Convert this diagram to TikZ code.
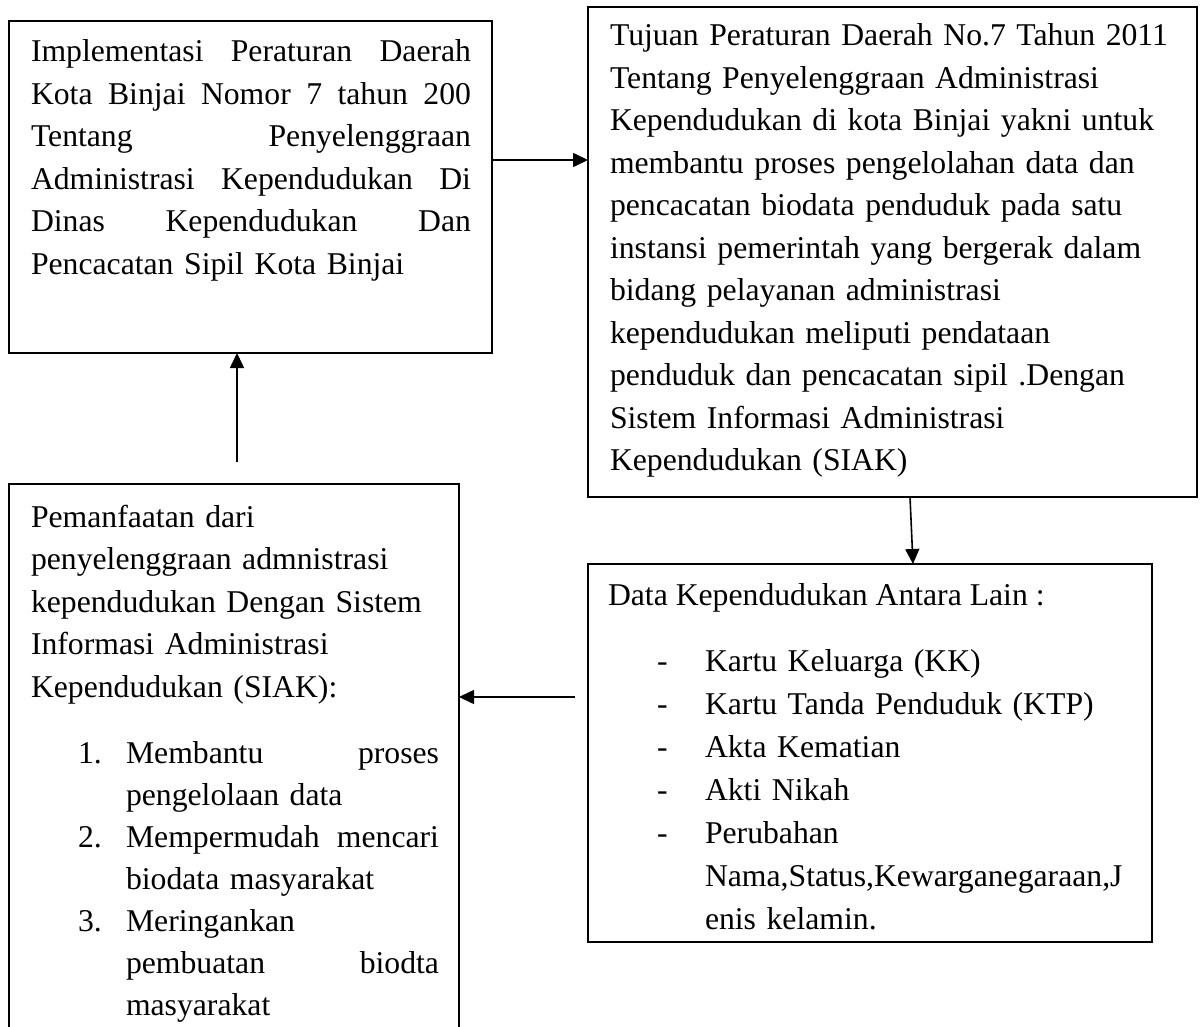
\documentclass[tikz,border=0pt]{standalone}
\usepackage{fontspec}
\setmainfont{Liberation Serif}
\usetikzlibrary{arrows.meta,calc}
\begin{document}
\begin{tikzpicture}[x=1pt,y=-1pt,
  box/.style={draw, line width=1.6pt, inner sep=0pt, outer sep=0pt, anchor=north west},
  arr/.style={line width=1.6pt, -{Triangle[length=15pt,width=14pt]}},
  txt/.style={inner sep=0pt, outer sep=0pt, anchor=north west, align=left,
    font=\fontsize{31.7pt}{42.5pt}\selectfont},
  lst/.style={txt, font=\fontsize{31.7pt}{42pt}\selectfont},
  lstb/.style={txt, font=\fontsize{31.7pt}{43pt}\selectfont},
  oneline/.style={inner sep=0pt, outer sep=0pt, anchor=base west,
    font=\fontsize{31.7pt}{42.5pt}\selectfont}]
\useasboundingbox (0,0) rectangle (1202,1027);
\clip (0,0) rectangle (1202,1027);
\fill[white] (0,0) rectangle (1202,1027);

% boxes
\node[box, minimum width=483pt, minimum height=332pt] (b1) at (9,21) {};
\node[box, minimum width=609pt, minimum height=490pt] (b2) at (588,7) {};
\node[box, minimum width=564pt, minimum height=378pt] (b4) at (588,564) {};
\node[box, minimum width=450pt, minimum height=570pt] (b3) at (9,484) {};

% box 1 text
\node[txt, text width=440pt] (t1) at (31,32) {\rule{0pt}{30pt}Implementasi\hfill Peraturan\hfill Daerah\\
Kota\hfill Binjai\hfill Nomor\hfill 7\hfill tahun\hfill 200\\
Tentang\hfill Penyelenggraan\\
Administrasi\hfill Kependudukan\hfill Di\\
Dinas\hfill Kependudukan\hfill Dan\\
Pencacatan Sipil Kota Binjai};

% box 2 text
\node[txt, text width=575pt] (t2) at (610,16) {\rule{0pt}{30pt}Tujuan Peraturan Daerah No.7 Tahun 2011\\
Tentang Penyelenggraan Administrasi\\
Kependudukan di kota Binjai yakni untuk\\
membantu proses pengelolahan data dan\\
pencacatan biodata penduduk pada satu\\
instansi pemerintah yang bergerak dalam\\
bidang pelayanan administrasi\\
kependudukan meliputi pendataan\\
penduduk dan pencacatan sipil .Dengan\\
Sistem Informasi Administrasi\\
Kependudukan (SIAK)};

% box 3 text
\node[txt, text width=420pt] (t3) at (31,497) {\rule{0pt}{30pt}Pemanfaatan dari\\
penyelenggraan admnistrasi\\
kependudukan Dengan Sistem\\
Informasi Administrasi\\
Kependudukan (SIAK):};
\node[oneline] (n1) at (78,763) {1.};
\node[oneline] (n2) at (78,847) {2.};
\node[oneline] (n3) at (78,931) {3.};
\node[lst, text width=313pt] (t3b) at (126,733) {\rule{0pt}{30pt}Membantu\hfill proses\\
pengelolaan data\\
Mempermudah\hfill mencari\\
biodata masyarakat\\
Meringankan\\
pembuatan\hfill biodta\\
masyarakat};

% box 4 text
\node[oneline] (t4) at (608,605) {Data Kependudukan Antara Lain :};
\node[lstb, text width=30pt] (d4) at (657,641) {\rule{0pt}{30pt}-\\-\\-\\-\\-};
\node[lstb, text width=440pt] (t4b) at (705,641) {\rule{0pt}{30pt}Kartu Keluarga (KK)\\
Kartu Tanda Penduduk (KTP)\\
Akta Kematian\\
Akti Nikah\\
Perubahan\\
Nama,Status,Kewarganegaraan,J\\
enis kelamin.};

% connectors
\coordinate (a3) at (575,697);
\coordinate (a4) at (237,462);
\draw[arr] (b1.east |- 0,160) -- (b2.west |- 0,160);
\draw[arr] (b2.south -| 910,0) -- (b4.north -| 913,0);
\draw[arr] (a3) -- (b3.east |- a3);
\draw[arr] (a4) -- (b1.south -| a4);
\end{tikzpicture}
\end{document}
